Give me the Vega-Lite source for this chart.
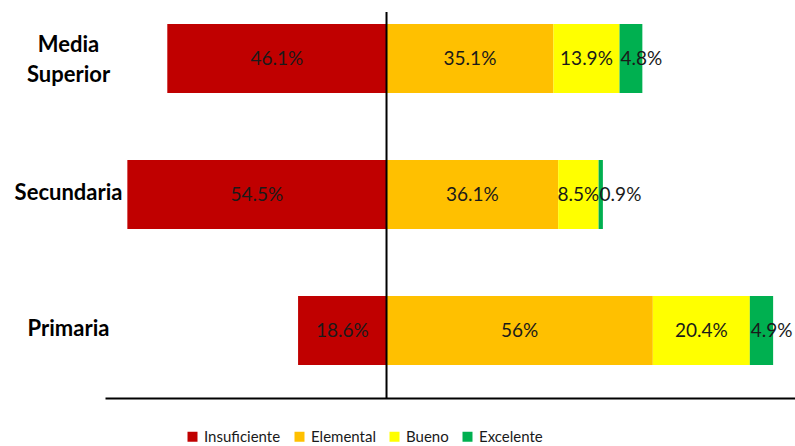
{
  "$schema": "https://vega.github.io/schema/vega-lite/v6.json",
  "description": "Distribución por nivel de logro (Insuficiente, Elemental, Bueno, Excelente) por nivel educativo.",
  "autosize": "none",
  "width": 690,
  "height": 386,
  "padding": {"left": 105, "top": 12, "right": 0, "bottom": 48},
  "datasets": {
    "logro": [
      {"nivel": "Media Superior", "categoria": "Insuficiente", "pct": 46.1},
      {"nivel": "Media Superior", "categoria": "Elemental", "pct": 35.1},
      {"nivel": "Media Superior", "categoria": "Bueno", "pct": 13.9},
      {"nivel": "Media Superior", "categoria": "Excelente", "pct": 4.8},
      {"nivel": "Secundaria", "categoria": "Insuficiente", "pct": 54.5},
      {"nivel": "Secundaria", "categoria": "Elemental", "pct": 36.1},
      {"nivel": "Secundaria", "categoria": "Bueno", "pct": 8.5},
      {"nivel": "Secundaria", "categoria": "Excelente", "pct": 0.9},
      {"nivel": "Primaria", "categoria": "Insuficiente", "pct": 18.6},
      {"nivel": "Primaria", "categoria": "Elemental", "pct": 56},
      {"nivel": "Primaria", "categoria": "Bueno", "pct": 20.4},
      {"nivel": "Primaria", "categoria": "Excelente", "pct": 4.9}
    ],
    "eje": [{"cero": 0}]
  },
  "layer": [
    {
      "data": {"name": "logro"},
      "transform": [
        {"calculate": "datum.categoria === 'Insuficiente' ? -datum.pct : datum.pct", "as": "valor"},
        {"calculate": "indexof(['Insuficiente', 'Elemental', 'Bueno', 'Excelente'], datum.categoria)", "as": "orden"},
        {"stack": "valor", "groupby": ["nivel"], "sort": [{"field": "orden"}], "as": ["x0", "x1"]},
        {"calculate": "(datum.x0 + datum.x1) / 2", "as": "medio"},
        {"calculate": "format(datum.pct, '.3~g') + '%'", "as": "etiqueta"}
      ],
      "encoding": {
        "y": {
          "field": "nivel",
          "type": "nominal",
          "sort": ["Media Superior", "Secundaria", "Primaria"],
          "scale": {"paddingInner": 0.4926, "paddingOuter": 0.1654, "align": 0.267},
          "axis": {
            "title": null,
            "domain": false,
            "ticks": false,
            "tickSize": 0,
            "labelPadding": 37,
            "labelAlign": "center",
            "labelBaseline": "middle",
            "labelFont": "Lato",
            "labelFontSize": 22,
            "labelFontWeight": "bold",
            "labelColor": "#000000",
            "labelLineHeight": 30,
            "labelOffset": {"condition": {"test": "datum.value === 'Media Superior'", "value": -14}, "value": -2},
            "labelExpr": "datum.label === 'Media Superior' ? ['Media', 'Superior'] : datum.label"
          }
        }
      },
      "layer": [
        {
          "mark": {"type": "bar"},
          "encoding": {
            "x": {
              "field": "x0",
              "type": "quantitative",
              "scale": {"domain": [-59.2, 85.9], "nice": false, "zero": false},
              "axis": {
                "title": null,
                "labels": false,
                "ticks": false,
                "grid": false,
                "domain": true,
                "domainColor": "#000000",
                "domainWidth": 2
              }
            },
            "x2": {"field": "x1"},
            "color": {
              "field": "categoria",
              "type": "nominal",
              "scale": {
                "domain": ["Insuficiente", "Elemental", "Bueno", "Excelente"],
                "range": ["#C00000", "#FFC000", "#FFFF00", "#00B050"]
              },
              "legend": {
                "title": null,
                "orient": "none",
                "direction": "horizontal",
                "legendX": 80,
                "legendY": 417,
                "padding": 0,
                "columnPadding": 11,
                "symbolType": "square",
                "symbolSize": 100,
                "symbolStrokeWidth": 0,
                "labelOffset": 4,
                "labelFont": "Lato",
                "labelFontSize": 15,
                "labelColor": "#1a1a1a"
              }
            }
          }
        },
        {
          "transform": [{"filter": "datum.categoria !== 'Excelente'"}],
          "mark": {"type": "text", "font": "Lato", "fontSize": 19, "color": "#1a1a1a", "align": "center", "baseline": "middle"},
          "encoding": {
            "x": {"field": "medio", "type": "quantitative"},
            "text": {"field": "etiqueta"}
          }
        },
        {
          "transform": [{"filter": "datum.categoria === 'Excelente'"}],
          "mark": {"type": "text", "font": "Lato", "fontSize": 19, "color": "#1a1a1a", "align": "left", "baseline": "middle", "dx": 1},
          "encoding": {
            "x": {"field": "x0", "type": "quantitative"},
            "text": {"field": "etiqueta"}
          }
        }
      ]
    },
    {
      "data": {"name": "eje"},
      "mark": {"type": "rule", "color": "#000000", "strokeWidth": 2},
      "encoding": {"x": {"field": "cero", "type": "quantitative"}}
    }
  ],
  "config": {
    "view": {"stroke": null}
  }
}
